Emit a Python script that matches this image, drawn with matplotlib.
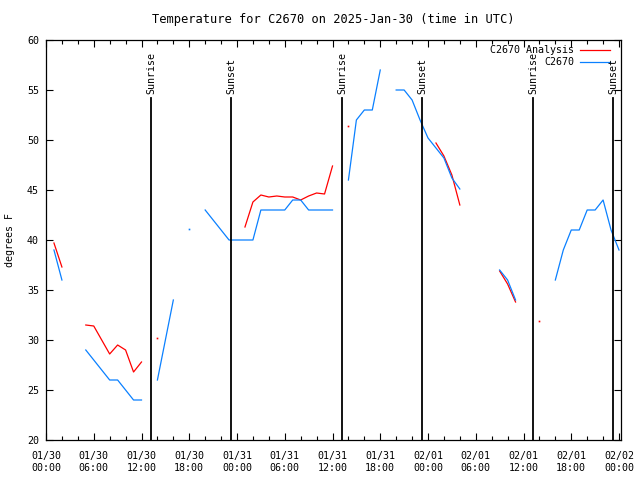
import numpy as np
import matplotlib
matplotlib.use('Agg')
import matplotlib.pyplot as plt
from matplotlib.ticker import MultipleLocator, FixedLocator, FixedFormatter

nan = np.nan

# hours since 2025-01-30 00:00 UTC, nan marks a gap in the record
obs_hours = [1, 2, nan,
             5, 6, 7, 8, 9, 10, 11, 12, nan,
             14, 15, 16, nan,
             20, 21, 22, 23, 24, 25, 26, 27, 28, 29, 30, 31, 32, 33, 34, 35, 36, nan,
             38, 39, 40, 41, 42, nan,
             44, 45, 46, 47, 48, 49, 50, 51, 52, nan,
             57, 58, 59, nan,
             64, 65, 66, 67, 68, 69, 70, 71, 72]
obs_temp = [39.0, 36.0, nan,
            29.0, 28.0, 27.0, 26.0, 26.0, 25.0, 24.0, 24.0, nan,
            26.0, 30.0, 34.0, nan,
            43.0, 42.0, 41.0, 40.0, 40.0, 40.0, 40.0, 43.0, 43.0, 43.0, 43.0, 44.0, 44.0, 43.0, 43.0, 43.0, 43.0, nan,
            46.0, 52.0, 53.0, 53.0, 57.0, nan,
            55.0, 55.0, 54.0, 52.0, 50.2, 49.2, 48.2, 46.2, 45.1, nan,
            37.0, 36.0, 34.0, nan,
            36.0, 39.0, 41.0, 41.0, 43.0, 43.0, 44.0, 41.0, 39.0]
obs_dot_hours = [18]
obs_dot_temp = [41.1]

ana_hours = [1, 2, nan,
             5, 6, 7, 8, 9, 10, 11, 12, nan,
             25, 26, 27, 28, 29, 30, 31, 32, 33, 34, 35, 36, nan,
             49, 50, 51, 52, nan,
             57, 58, 59]
ana_temp = [39.7, 37.3, nan,
            31.5, 31.4, 30.0, 28.6, 29.5, 29.0, 26.8, 27.8, nan,
            41.3, 43.8, 44.5, 44.3, 44.4, 44.3, 44.3, 44.0, 44.4, 44.7, 44.6, 47.4, nan,
            49.7, 48.4, 46.5, 43.5, nan,
            36.9, 35.6, 33.8]
ana_dot_hours = [14, 38, 62]
ana_dot_temp = [30.2, 51.4, 31.9]

sun_hours = [13.2, 23.25, 37.2, 47.25, 61.2, 71.25]
sun_labels = ['Sunrise', 'Sunset', 'Sunrise', 'Sunset', 'Sunrise', 'Sunset']

tick_hours = list(range(0, 73, 6))
tick_labels = ['01/30\n00:00', '01/30\n06:00', '01/30\n12:00', '01/30\n18:00',
               '01/31\n00:00', '01/31\n06:00', '01/31\n12:00', '01/31\n18:00',
               '02/01\n00:00', '02/01\n06:00', '02/01\n12:00', '02/01\n18:00',
               '02/02\n00:00']

plt.rcParams['font.family'] = ['DejaVu Sans Mono']
plt.rcParams['font.size'] = 7.2

RED = '#ff0000'
BLUE = '#0a80ff'

fig = plt.figure(figsize=(6.4, 4.8), dpi=100)
ax = fig.add_axes([46 / 640, 40 / 480, 575 / 640, 400 / 480])

ax.plot(ana_hours, ana_temp, color=RED, lw=0.9)
ax.plot(obs_hours, obs_temp, color=BLUE, lw=0.9)
ax.plot(ana_dot_hours, ana_dot_temp, ls='none', marker='s', ms=1.2, color=RED, mew=0)
ax.plot(obs_dot_hours, obs_dot_temp, ls='none', marker='s', ms=1.2, color=BLUE, mew=0)

# sunrise / sunset markers
for h, lab in zip(sun_hours, sun_labels):
    ax.plot([h, h], [20, 54.2], color='black', lw=1.3)
    ax.text(h, 54.6, lab, rotation=90, ha='center', va='bottom')

ax.set_xlim(0, 72.25)
ax.set_ylim(20, 60)

ax.xaxis.set_major_locator(FixedLocator(tick_hours))
ax.xaxis.set_major_formatter(FixedFormatter(tick_labels))
ax.xaxis.set_minor_locator(MultipleLocator(2))
ax.yaxis.set_major_locator(MultipleLocator(5))
ax.tick_params(which='both', direction='in', top=True, right=True, width=0.8, colors='black')
ax.tick_params(which='major', length=5)
ax.tick_params(which='minor', length=3)
ax.tick_params(axis='x', which='major', pad=8)
ax.tick_params(axis='y', pad=5)
for s in ax.spines.values():
    s.set_linewidth(0.9)

ax.set_title('Temperature for C2670 on 2025-Jan-30 (time in UTC)', pad=12)
ax.set_ylabel('degrees F')
ax.yaxis.set_label_coords((15 - 46) / 575, 0.5)

# legend drawn gnuplot style: right-aligned text, sample line after it
for i, (lab, col) in enumerate([('C2670 Analysis', RED), ('C2670', BLUE)]):
    yy = 1 - (10 + 12 * i) / 400
    ax.text((574 - 46) / 575, yy, lab, transform=ax.transAxes, ha='right', va='center')
    ax.plot([(580 - 46) / 575, (610 - 46) / 575], [yy, yy], transform=ax.transAxes,
            color=col, lw=0.9, clip_on=False)

fig.savefig('out.png', dpi=100)
